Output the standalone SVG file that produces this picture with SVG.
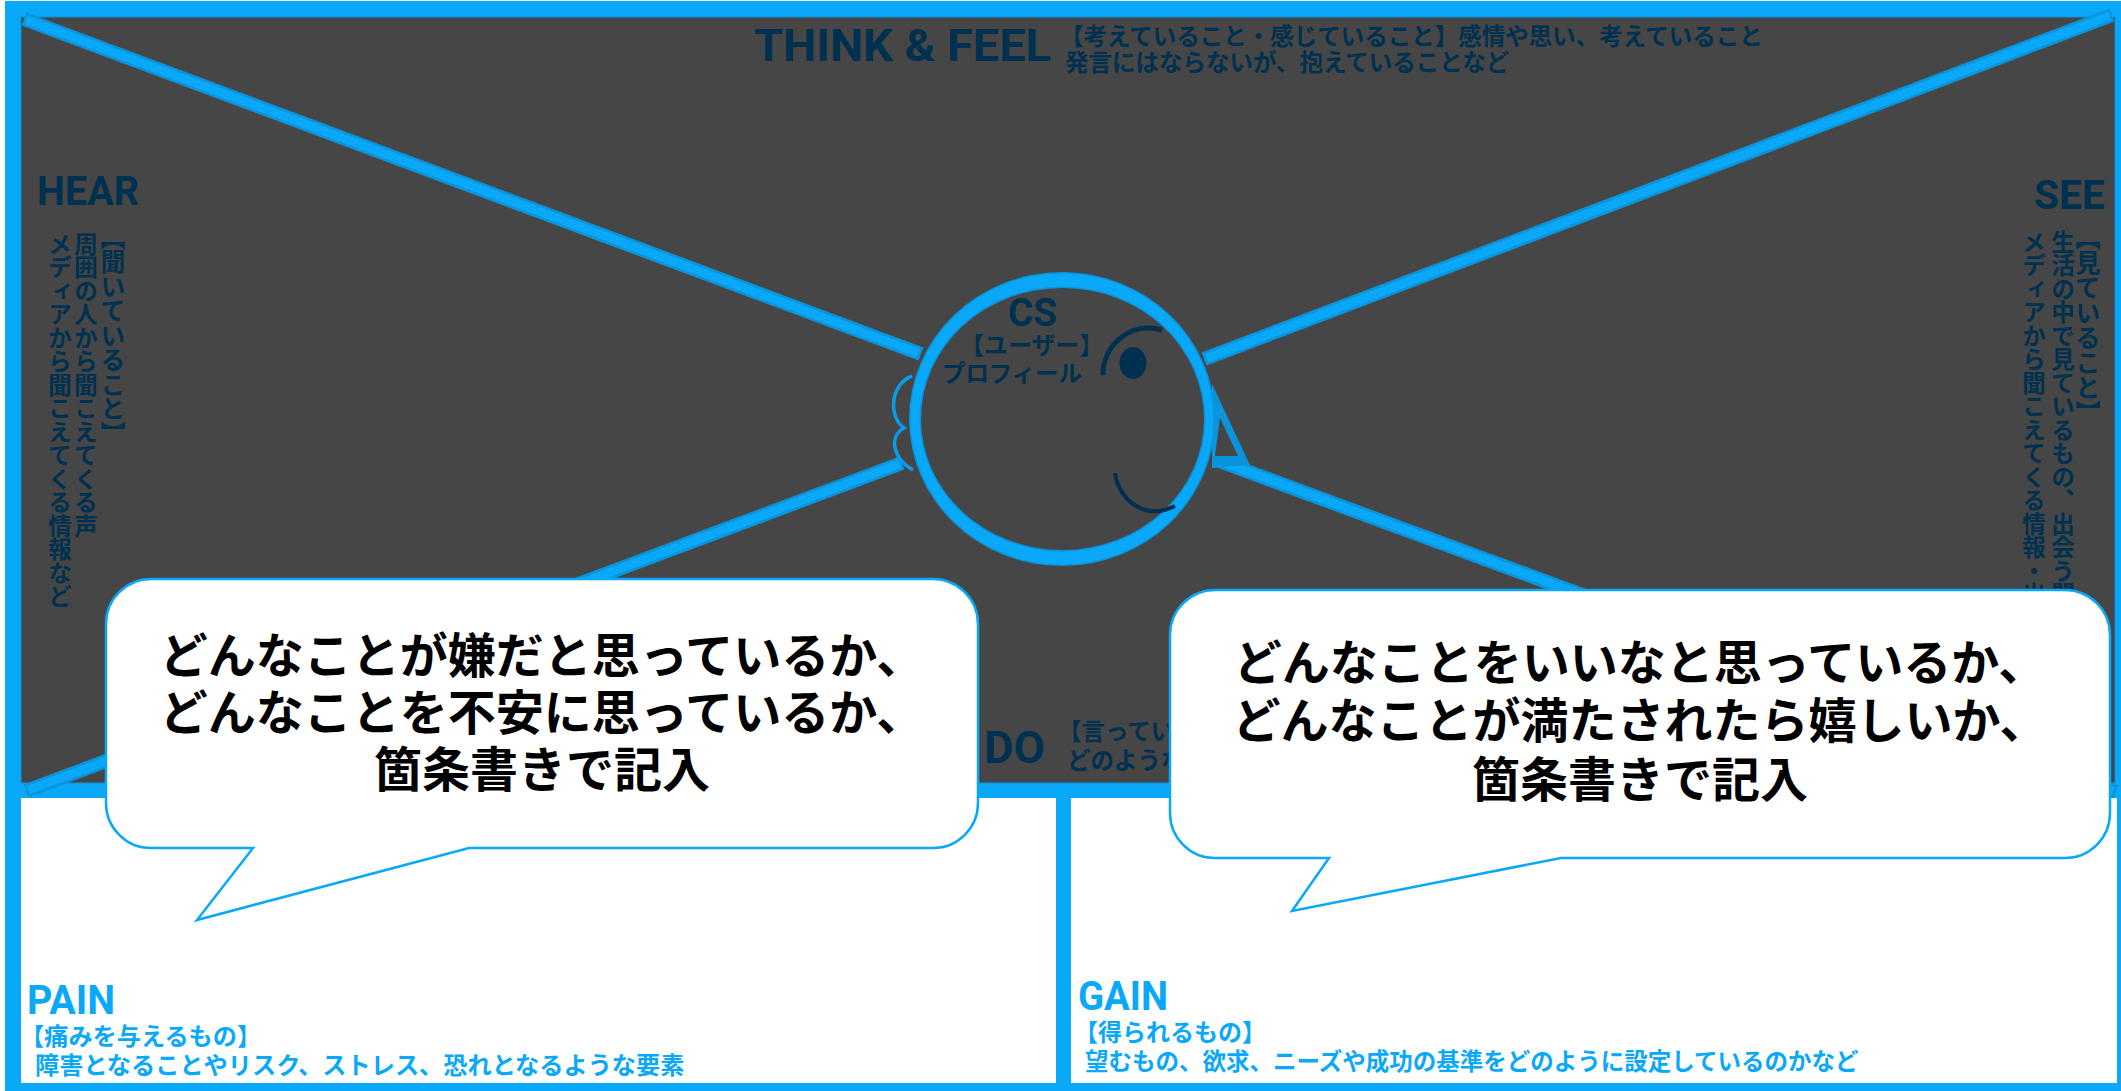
<svg xmlns="http://www.w3.org/2000/svg" width="2121" height="1091" viewBox="0 0 2121 1091">
<defs>
<filter id="edge" x="-5%" y="-5%" width="110%" height="110%" color-interpolation-filters="sRGB">
<feMorphology in="SourceAlpha" operator="erode" radius="1.6" result="core"/>
<feFlood flood-color="#0aa8f8"/>
<feComposite in2="core" operator="in" result="bright"/>
<feMerge><feMergeNode in="SourceGraphic"/><feMergeNode in="bright"/></feMerge>
</filter>
</defs>
<style>
.t{font-family:"Roboto","Liberation Sans",sans-serif;font-weight:700}
.j{font-family:"Noto Sans CJK JP","Noto Sans",sans-serif;font-weight:700}
.d{fill:#00304f}
.b{fill:#0aa8f8}
.s{font-size:23.5px}
.v{writing-mode:vertical-rl;font-size:23.5px}
.c{font-size:48px;fill:#000;text-anchor:middle}
.l{stroke:#0a94dc;stroke-width:14;fill:none}
.call{fill:#fff;stroke:#0aa8f8;stroke-width:2.5}
</style>
<rect width="2121" height="1091" fill="#fff"/>
<g id="frame">
<rect x="5" y="1" width="2116" height="1090" fill="#0aa8f8"/>
<rect x="21" y="17" width="2094" height="766" fill="#464646" stroke="#0a94dc" stroke-width="1"/>
<rect x="21" y="798" width="1035" height="285" fill="#fff"/>
<rect x="1071" y="798" width="1046" height="285" fill="#fff"/>
</g>
<g id="connectors" filter="url(#edge)">
<line class="l" x1="24" y1="19" x2="921" y2="354"/>
<line class="l" x1="2112" y1="15" x2="1204" y2="359"/>
<line class="l" x1="902" y1="463" x2="26" y2="791"/>
<line class="l" x1="1215" y1="459.5" x2="2116" y2="792"/>
</g>
<g id="cs-head">
<path d="M912 376C889 385 889 418 904 428C889 436 892 458 913 470" fill="none" stroke="#0a9ce8" stroke-width="3.5"/>
<path d="M1212 384L1250 465L1212 468Z" fill="#0a94dc"/>
<path d="M1220 418L1238 456L1215 456Z" fill="#464646"/>
<ellipse cx="1062" cy="419" rx="153" ry="147" fill="#0a94dc"/>
<ellipse cx="1062" cy="419" rx="151.5" ry="145.5" fill="#0aa8f8"/>
<ellipse cx="1062.5" cy="419" rx="143" ry="132.5" fill="#0a94dc"/>
<ellipse cx="1062.5" cy="419" rx="141.5" ry="131" fill="#464646"/>
<path d="M1103 375C1103 345 1130 321 1162 330" fill="none" stroke="#00304f" stroke-width="5"/>
<ellipse cx="1133" cy="363" rx="13.5" ry="16" fill="#00304f"/>
<path d="M1115 473C1118 497 1142 522 1175 506" fill="none" stroke="#00304f" stroke-width="4"/>
<text class="t d" x="1008" y="326" font-size="39" textLength="49" lengthAdjust="spacingAndGlyphs">CS</text>
<text class="j d" x="960" y="354" font-size="24">【ユーザー】</text>
<text class="j d" x="942" y="382" font-size="23.4">プロフィール</text>
</g>
<g id="think-feel">
<text class="t d" x="754" y="61" font-size="45" textLength="297" lengthAdjust="spacingAndGlyphs">THINK &amp; FEEL</text>
<text class="j d s" x="1060" y="45">【考えていること・感じていること】感情や思い、考えていること</text>
<text class="j d s" x="1065" y="71">発言にはならないが、抱えていることなど</text>
</g>
<g id="hear">
<text class="t d" x="37" y="205" font-size="41" textLength="102" lengthAdjust="spacingAndGlyphs">HEAR</text>
<text class="j d v" x="113" y="225" style="font-size:24.5px">【聞いていること】</text>
<text class="j d v" x="86" y="232">周囲の人から聞こえてくる声</text>
<text class="j d v" x="60" y="232">メディアから聞こえてくる情報など</text>
</g>
<g id="see">
<text class="t d" x="2034" y="209" font-size="41" textLength="71" lengthAdjust="spacingAndGlyphs">SEE</text>
<text class="j d v" x="2088" y="225" style="font-size:25px">【見ていること】</text>
<text class="j d v" x="2063" y="230">生活の中で見ているもの、出会う関</text>
<text class="j d v" x="2034" y="230">メディアから聞こえてくる情報・出</text>
</g>
<g id="do">
<text class="t d" x="984" y="763" font-size="45" textLength="61" lengthAdjust="spacingAndGlyphs">DO</text>
<text class="j d s" x="1058" y="740">【言ってい</text>
<text class="j d s" x="1067" y="769">どのような</text>
</g>
<g id="pain">
<text class="t b" x="27" y="1014" font-size="41" textLength="88" lengthAdjust="spacingAndGlyphs">PAIN</text>
<text class="j b" x="20" y="1045" font-size="24.2">【痛みを与えるもの】</text>
<text class="j b" x="35" y="1074" font-size="24.2">障害となることやリスク、ストレス、恐れとなるような要素</text>
</g>
<g id="gain">
<text class="t b" x="1078" y="1010" font-size="41" textLength="90" lengthAdjust="spacingAndGlyphs">GAIN</text>
<text class="j b" x="1074" y="1041" font-size="24">【得られるもの】</text>
<text class="j b" x="1085" y="1070" font-size="23.5">望むもの、欲求、ニーズや成功の基準をどのように設定しているのかなど</text>
</g>
<g id="callout-pain">
<path class="call" d="M151 579H933A45 45 0 0 1 978 624V803A45 45 0 0 1 933 848H469L197 920L253 848H151A45 45 0 0 1 106 803V624A45 45 0 0 1 151 579Z"/>
<text class="j c" x="542" y="673">どんなことが嫌だと思っているか、</text>
<text class="j c" x="542" y="729.5">どんなことを不安に思っているか、</text>
<text class="j c" x="542" y="786.5">箇条書きで記入</text>
</g>
<g id="callout-gain">
<path class="call" d="M1215 590H2065A45 45 0 0 1 2110 635V813A45 45 0 0 1 2065 858H1561L1292 911L1329 858H1215A45 45 0 0 1 1170 813V635A45 45 0 0 1 1215 590Z"/>
<text class="j c" x="1640" y="680">どんなことをいいなと思っているか、</text>
<text class="j c" x="1640" y="738">どんなことが満たされたら嬉しいか、</text>
<text class="j c" x="1640" y="797">箇条書きで記入</text>
</g>
</svg>
